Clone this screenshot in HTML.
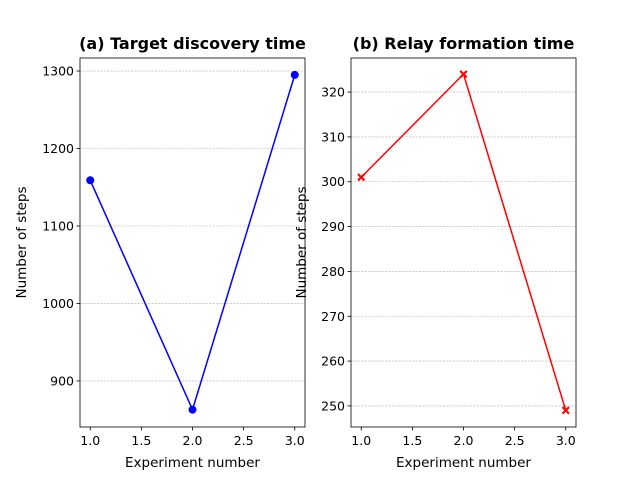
<!DOCTYPE html>
<html><head><meta charset="utf-8"><style>
body{margin:0;background:#fff;}
svg{display:block;font-family:"DejaVu Sans","Liberation Sans",sans-serif;}
</style></head><body>
<svg id="chart" width="640" height="480" viewBox="0 0 640 480"></svg>
<script>
const categories=[1,2,3];
const discoveryValues=[1159,863,1295];
const relayValues=[301,324,249];
const xTicks=[1.0,1.5,2.0,2.5,3.0];
const leftYTicks=[900,1000,1100,1200,1300];
const rightYTicks=[250,260,270,280,290,300,310,320];
const svg=document.getElementById('chart');
const NS='http://www.w3.org/2000/svg';
function mk(tag,attrs,parent){const e=document.createElementNS(NS,tag);for(const k in attrs)e.setAttribute(k,attrs[k]);(parent||svg).appendChild(e);return e;}
function panel(cfg){
  const {x0,x1,y0,y1,ymin,ymax,xmin,xmax,vals,yticks,color,marker,title,name}=cfg;
  const g=mk('g',{});
  
  
  const sx=v=>x0+(v-xmin)/(xmax-xmin)*(x1-x0);
  const sy=v=>y1-(v-ymin)/(ymax-ymin)*(y1-y0);
  yticks.forEach(t=>{
    const y=sy(t);
    const gl=mk('line',{x1:x0,x2:x1,y1:y,y2:y,stroke:'#b0b0b0','stroke-width':0.6,'stroke-dasharray':'2.2,1.2'},g);
    
    
    mk('line',{x1:x0-3.5,x2:x0,y1:y,y2:y,stroke:'#000','stroke-width':0.8},g);
    const tl=mk('text',{x:x0-6,y:y+4.5,'text-anchor':'end','font-size':12.5},g);
    tl.textContent=t;
    
    
  });
  xTicks.forEach(t=>{
    const x=sx(t);
    mk('line',{x1:x,x2:x,y1:y1,y2:y1+3.5,stroke:'#000','stroke-width':0.8},g);
    const tl=mk('text',{x:x,y:y1+18,'text-anchor':'middle','font-size':12.5},g);
    tl.textContent=t.toFixed(1);
    
    
  });
  const pts=categories.map((c,i)=>sx(c)+','+sy(vals[i])).join(' ');
  const line=mk('polyline',{points:pts,fill:'none',stroke:color,'stroke-width':1.5},g);
  
  
  categories.forEach((c,i)=>{
    const x=sx(c),y=sy(vals[i]);
    let m;
    if(marker==='o'){m=mk('circle',{cx:x,cy:y,r:4,fill:color},g);}
    else{
      const a=4,b=1.5;
      m=mk('path',{d:`M${x-a+b},${y-a} L${x},${y-b} L${x+a-b},${y-a} L${x+a},${y-a+b} L${x+b},${y} L${x+a},${y+a-b} L${x+a-b},${y+a} L${x},${y+b} L${x-a+b},${y+a} L${x-a},${y+a-b} L${x-b},${y} L${x-a},${y-a+b} Z`,fill:color},g);
    }
    
    
  });
  const fr=mk('rect',{x:x0,y:y0,width:x1-x0,height:y1-y0,fill:'none',stroke:'#000','stroke-width':0.8},g);
  
  
  const tt=mk('text',{x:(x0+x1)/2,y:y0-9,'text-anchor':'middle','font-size':16,'font-weight':'bold'},g);
  tt.textContent=title;
  
  
  const xl=mk('text',{x:(x0+x1)/2,y:y1+40,'text-anchor':'middle','font-size':13.5},g);
  xl.textContent='Experiment number';
  
  
  const yl=mk('text',{x:0,y:0,'text-anchor':'middle','font-size':13.5,transform:`translate(${cfg.ylx},${(y0+y1)/2}) rotate(-90)`},g);
  yl.textContent='Number of steps';
  
  
}
panel({x0:80,x1:305,y0:58,y1:427,xmin:0.9,xmax:3.1,ymin:840.6,ymax:1316.8,vals:discoveryValues,yticks:leftYTicks,color:'#0000ff',marker:'o',title:'(a) Target discovery time',name:'discovery-panel',ylx:26});
panel({x0:351,x1:576,y0:58,y1:427,xmin:0.9,xmax:3.1,ymin:245.3,ymax:327.6,vals:relayValues,yticks:rightYTicks,color:'#ff0000',marker:'X',title:'(b) Relay formation time',name:'relay-panel',ylx:306});
</script>
</body></html>
